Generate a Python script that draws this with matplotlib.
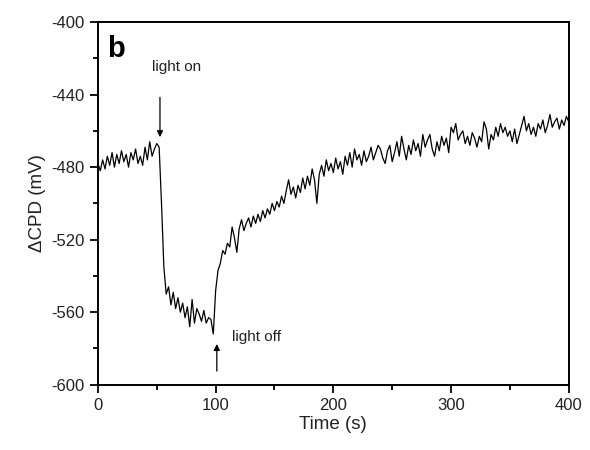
import numpy as np
import matplotlib
import matplotlib.pyplot as plt
from matplotlib.ticker import MultipleLocator

matplotlib.use('Agg')
plt.rcParams['font.family'] = ['Liberation Sans', 'DejaVu Sans']
plt.rcParams['axes.unicode_minus'] = False

# time axis, 2 s sampling
time_s = np.arange(0, 401, 2)

# CPD trace (mV)
cpd_mv = [
    # 0-52 s, dark
    -478, -482, -476, -481, -474, -479, -472, -480, -473, -478,
    -471, -477, -473, -480, -472, -476, -470, -478, -474, -479,
    -469, -476, -466, -474, -470, -467, -469,
    # 54-100 s, light on
    -500, -535, -550, -546, -556, -549, -558, -552, -560, -555,
    -563, -557, -568, -553, -566, -558, -561, -565, -559, -566,
    -563, -564, -572, -548,
    # 102-200 s, recovery
    -537, -533, -526, -528, -522, -524, -513, -519, -527, -514,
    -509, -515, -511, -508, -513, -507, -511, -506, -510, -504,
    -508, -503, -506, -500, -504, -499, -502, -496, -500, -493,
    -487, -495, -491, -497, -490, -494, -486, -492, -485, -490,
    -481, -487, -500, -484, -479, -485, -476, -482, -478, -483,
    # 202-300 s
    -475, -481, -477, -484, -474, -479, -472, -480, -470, -476,
    -473, -479, -471, -477, -474, -469, -476, -472, -468, -470,
    -475, -478, -471, -468, -477, -472, -466, -474, -463, -470,
    -476, -468, -473, -465, -471, -467, -474, -462, -469, -465,
    -462, -470, -474, -466, -471, -463, -468, -464, -472, -458,
    # 302-400 s
    -461, -456, -465, -462, -460, -467, -463, -468, -461, -464,
    -469, -463, -466, -455, -459, -470, -462, -465, -458, -463,
    -456, -461, -458, -463, -460, -466, -459, -467, -462, -457,
    -452, -460, -456, -462, -458, -463, -456, -459, -454, -461,
    -457, -451, -458, -455, -453, -459, -454, -457, -452, -455,
]

fig = plt.figure(figsize=(5.9, 4.5), dpi=100)
ax = fig.add_axes([0.166, 0.145, 0.798, 0.806])
ax.plot(time_s, cpd_mv, color='black', lw=0.9)

ax.set_xlim(0, 400)
ax.set_ylim(-600, -400)
ax.xaxis.set_major_locator(MultipleLocator(100))
ax.xaxis.set_minor_locator(MultipleLocator(50))
ax.yaxis.set_major_locator(MultipleLocator(40))
ax.yaxis.set_minor_locator(MultipleLocator(20))
ax.tick_params(which='major', direction='out', length=6, width=1.3,
               labelsize=12, colors='black', labelcolor='#222222',
               top=False, right=False)
ax.tick_params(which='minor', direction='out', length=3.5, width=1.3,
               top=False, right=False)
for sp in ax.spines.values():
    sp.set_linewidth(1.4)

ax.set_xlabel('Time (s)', fontsize=13.5, labelpad=2, color='#222222')
ax.set_ylabel('ΔCPD (mV)', fontsize=13.5, labelpad=4, color='#222222')

ax.text(8, -415, 'b', fontsize=21, fontweight='bold', va='center')

# arrows
ax.annotate('', xy=(52.7, -465), xytext=(52.7, -440),
            arrowprops=dict(arrowstyle='-|>', color='black', lw=0.9,
                            mutation_scale=9))
ax.text(46, -425, 'light on', fontsize=11, va='center', color='#222222')
ax.annotate('', xy=(101, -576), xytext=(101, -594),
            arrowprops=dict(arrowstyle='-|>', color='black', lw=0.9,
                            mutation_scale=9))
ax.text(114, -573.5, 'light off', fontsize=11, va='center', color='#222222')

fig.savefig('out.png', dpi=100)
